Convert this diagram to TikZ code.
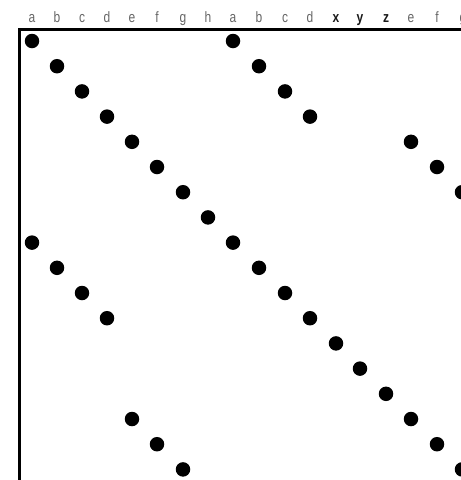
\documentclass[tikz,border=0pt]{standalone}
\usepackage{fontspec}
\setmainfont{Liberation Sans}
\newfontfamily\lblfont[FakeStretch=0.8]{Liberation Sans}
\begin{document}
\begin{tikzpicture}[x=1pt,y=-1pt,
  dot/.style={circle,fill=black,inner sep=0pt,minimum size=14.5pt},
  lbl/.style={text=black!60,font=\lblfont\fontsize{15}{15}\selectfont,inner sep=0pt,anchor=base},
  lblb/.style={text=black!90,font=\lblfont\fontsize{15}{15}\selectfont\bfseries,inner sep=0pt,anchor=base}]
\useasboundingbox (0,0) rectangle (461,480);
\clip (0,0) rectangle (461,480);
% column positions
\def\cols{32,57,82,107,132,157,183,208,233,259,285,310,336,360,386,411,437,462}
% labels
\foreach \t [count=\i] in {a,b,c,d,e,f,g,h,a,b,c,d}{
  \pgfmathsetmacro\xx{{\cols}[\i-1]}
  \node[lbl] (l\i) at (\xx,22.5) {\t};
}
\node[lblb] (l13) at (336,22.5) {x};
\node[lblb] (l14) at (360,22.5) {y};
\node[lblb] (l15) at (386,22.5) {z};
\node[lbl] (l16) at (411,22.5) {e};
\node[lbl] (l17) at (437,22.5) {f};
\node[lbl] (l18) at (463,22.5) {g};
% frame
\draw[line width=3pt] (19,490) -- (19,29) -- (475,29);
% main diagonal
\foreach \i in {1,...,18}{
  \pgfmathsetmacro\xx{{\cols}[\i-1]}
  \pgfmathsetmacro\yy{41+25.2*(\i-1)}
  \node[dot] (m\i) at (\xx,\yy) {};
}
% upper band
\foreach \i/\j in {9/1,10/2,11/3,12/4,16/5,17/6,18/7}{
  \pgfmathsetmacro\xx{{\cols}[\i-1]}
  \pgfmathsetmacro\yy{41+25.2*(\j-1)}
  \node[dot] (u\i) at (\xx,\yy) {};
}
% lower band
\foreach \i/\j in {1/9,2/10,3/11,4/12,5/16,6/17,7/18}{
  \pgfmathsetmacro\xx{{\cols}[\i-1]}
  \pgfmathsetmacro\yy{41+25.2*(\j-1)}
  \node[dot] (d\i) at (\xx,\yy) {};
}
\end{tikzpicture}
\end{document}
